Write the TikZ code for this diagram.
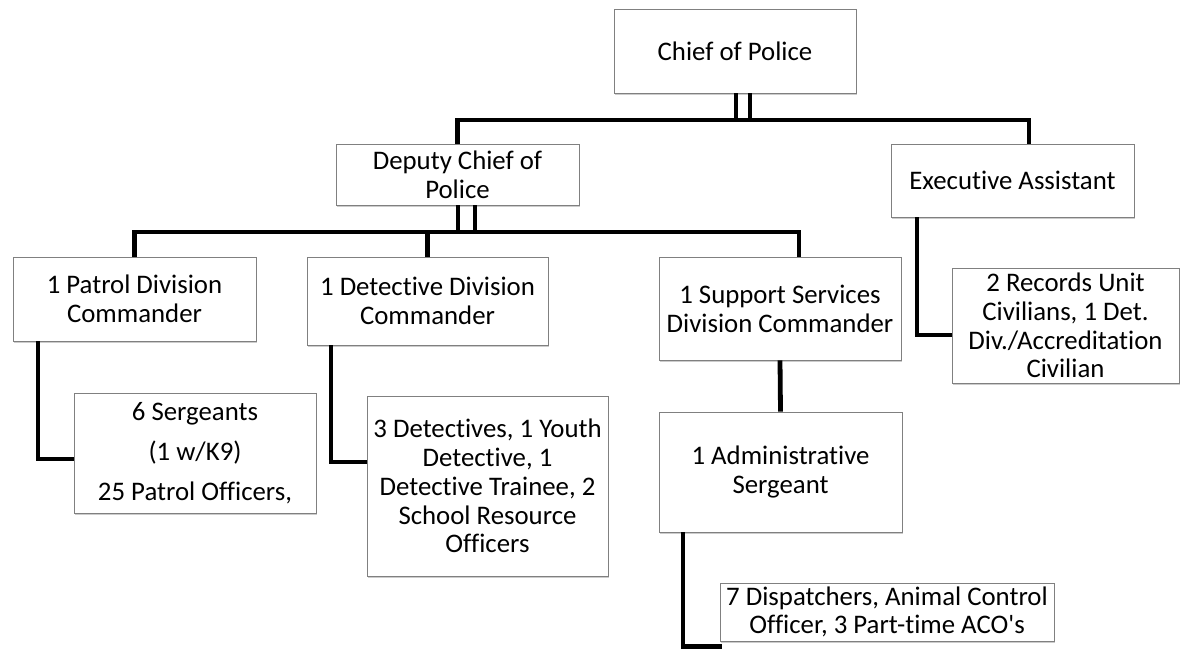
\documentclass[tikz,border=0pt]{standalone}
\usepackage{fontspec}
\setmainfont{Carlito}[Ligatures={TeXOff,NoCommon}]
\usetikzlibrary{positioning,calc,shadows}

\tikzset{
	box/.style={draw=black!50, line width=0.6pt, fill=white, align=center, inner sep=2pt,
		drop shadow={shadow xshift=1pt, shadow yshift=-1.4pt, fill=black!40, opacity=0.5},
		font=\fontsize{20.1}{21.6}\selectfont},
	boxsize/.style 2 args={minimum width=#1*0.75pt, minimum height=#2*0.75pt},
	link/.style={line width=3.6pt, line join=miter},
}

\begin{document}
\begin{tikzpicture}[x=0.75pt, y=-0.75pt]
	\useasboundingbox (0,0) rectangle (1180,649);

	\node[box, boxsize={242}{84}] (chief) at (735,51) {Chief of Police};
	\node[box, boxsize={243}{61}] (deputy) at (457.5,174.5) {Deputy Chief of\\Police};
	\node[box, boxsize={243}{73}] (exec) at (1012.5,180.5) {Executive Assistant};
	\node[box, boxsize={243}{84}] (patrol) at (134.5,299) {1 Patrol Division\\Commander};
	\node[box, boxsize={241}{88}] (detect) at (427.5,301) {1 Detective Division\\Commander};
	\node[box, boxsize={242}{103}] (support) at (780,308.5) {1 Support Services\\Division Commander};
	\node[box, boxsize={227}{115}] (records) at (1065.5,325.5) {2 Records Unit\\Civilians, 1 Det.\\Div./Accreditation\\Civilian};
	\node[box, boxsize={242}{120}] (serg) at (195,453) {6 Sergeants\\[8.5pt](1 w/K9)\\[8.5pt]25 Patrol Officers,};
	\node[box, boxsize={241}{180}] (detstaff) at (487.5,486) {3 Detectives, 1 Youth\\Detective, 1\\Detective Trainee, 2\\School Resource\\Officers};
	\node[box, boxsize={243}{120}] (admin) at (780.5,472) {1 Administrative\\Sergeant};
	\node[box, boxsize={334}{58}] (disp) at (887,612) {7 Dispatchers, Animal Control\\Officer, 3 Part-time ACO's};

	\coordinate (bus0) at (735,120);
	\coordinate (bus1) at (458,232);

	\draw[link] (deputy.north) |- (bus0) -| ($(exec.north)+(16.5,0)$);
	\draw[link] ($(chief.south)+(1,0)$) -- ++(0,27);
	\draw[link] ($(chief.south)+(15,0)$) -- ++(0,27);
	\draw[link] (patrol.north) |- (bus1) -| ($(support.north)+(19,0)$);
	\draw[link] (detect.north) -- (detect.north |- bus1);
	\draw[link] ($(deputy.south)+(0.5,0)$) -- ++(0,27);
	\draw[link] ($(deputy.south)+(17.5,0)$) -- ++(0,27);
	\draw[link] ($(patrol.south)+(-96.5,0)$) |- ($(serg.west)+(0,6)$);
	\draw[link] ($(detect.south)+(-96.5,0)$) |- ($(detstaff.west)+(0,-24)$);
	\draw[link] (support.south) -- (admin.north);
	\draw[link] ($(admin.south)+(-97.5,0)$) |- ($(disp.south west)+(2,5)$);
	\draw[link] ($(exec.south)+(-95.5,0)$) |- ($(records.west)+(0,9.5)$);
\end{tikzpicture}
\end{document}
